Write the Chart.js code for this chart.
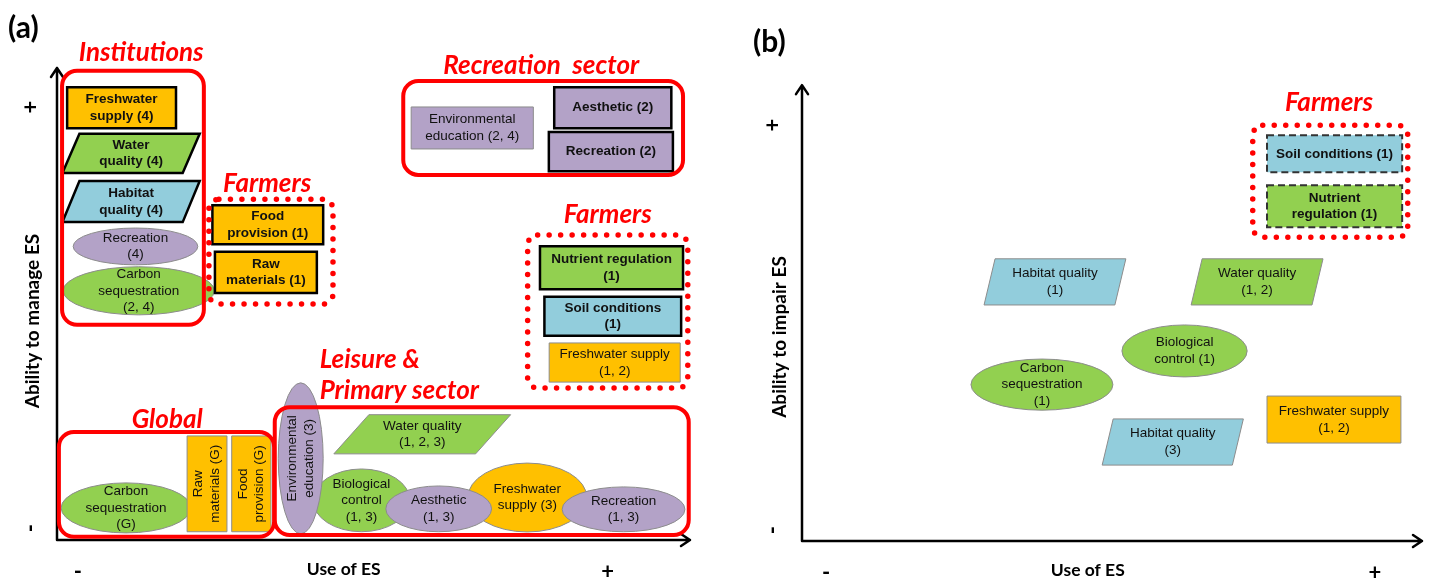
<!DOCTYPE html>
<html>
<head>
<title>Actors and ecosystem services</title>
<script src="https://cdn.jsdelivr.net/npm/chart.js"></script>
<style>
  body { margin: 0; background: #fff; }
  .row { display: flex; width: 1429px; height: 580px; }
  canvas { display: block; }
</style>
</head>
<body>
<div class="row">
  <canvas id="chartA" width="715" height="580"></canvas>
  <canvas id="chartB" width="714" height="580"></canvas>
</div>
<script>
// ---- panel (a): ability to manage ES vs use of ES ----
const aNames = [
  'Freshwater\nsupply (4)', 'Water\nquality (4)', 'Habitat\nquality (4)', 'Recreation\n(4)', 'Carbon\nsequestration\n(2, 4)',
  'Food\nprovision (1)', 'Raw\nmaterials (1)',
  'Environmental\neducation (2, 4)', 'Aesthetic (2)', 'Recreation (2)',
  'Nutrient regulation\n(1)', 'Soil conditions\n(1)', 'Freshwater supply\n(1, 2)',
  'Carbon\nsequestration\n(G)', 'Raw\nmaterials (G)', 'Food\nprovision (G)',
  'Biological\ncontrol\n(1, 3)', 'Freshwater\nsupply (3)', 'Aesthetic\n(1, 3)', 'Recreation\n(1, 3)',
  'Environmental\neducation (3)', 'Water quality\n(1, 2, 3)'
];
const aUse     = [10.2, 11.7, 11.7, 12.4, 12.9, 33.3, 33.0, 65.6, 87.8, 87.5, 87.6, 87.8, 88.1, 10.9, 23.7, 30.7, 48.1, 74.3, 60.3, 89.5, 38.5, 57.7];
const aAbility = [91.6, 81.9, 71.7, 62.2, 52.8, 66.8, 56.7, 87.3, 91.6, 82.3, 57.7, 47.4, 37.6, 6.8, 11.9, 11.9, 8.4, 9.0, 6.6, 6.5, 17.3, 22.4];
const aType    = ['prov', 'reg', 'hab', 'cult', 'reg', 'prov', 'prov', 'cult', 'cult', 'cult', 'reg', 'hab', 'prov',
                  'reg', 'prov', 'prov', 'reg', 'prov', 'cult', 'cult', 'cult', 'reg'];
const aShape   = ['rect', 'para', 'para', 'ellipse', 'ellipse', 'rect', 'rect', 'rect', 'rect', 'rect', 'rect', 'rect', 'rect',
                  'ellipse', 'rect', 'rect', 'ellipse', 'ellipse', 'ellipse', 'ellipse', 'ellipse', 'para'];
const aStrong  = [1, 1, 1, 0, 0, 1, 1, 0, 1, 1, 1, 1, 0, 0, 0, 0, 0, 0, 0, 0, 0, 0];
const aRotated = [0, 0, 0, 0, 0, 0, 0, 0, 0, 0, 0, 0, 0, 0, 1, 1, 0, 0, 0, 0, 1, 0];
// box sizes in axis units, slant of parallelograms in px
const aBoxW  = [17.2, 19.0, 19.0, 19.7, 23.9, 17.5, 16.1, 19.3, 18.5, 19.6, 22.6, 21.6, 20.7, 20.5, 6.3, 6.2, 15.3, 18.8, 16.7, 19.4, 7.1, 22.4];
const aBoxH  = [8.7, 8.3, 8.7, 7.8, 10.2, 8.3, 8.7, 8.9, 8.7, 8.3, 9.1, 8.3, 8.3, 10.6, 20.3, 20.3, 13.3, 14.6, 9.7, 9.5, 32.0, 8.3];
const aSlant = [0, 17, 17, 0, 0, 0, 0, 0, 0, 0, 0, 0, 0, 0, 0, 0, 0, 0, 0, 0, 0, 35];

const aGroups    = ['Institutions', 'Farmers', 'Recreation  sector', 'Farmers', 'Global', 'Leisure &\nPrimary sector'];
const aGroupX    = [12.0, 33.8, 76.8, 87.0, 17.3, 67.1];
const aGroupY    = [72.5, 61.1, 87.3, 48.4, 11.8, 14.6];
const aGroupW    = [22.4, 19.6, 44.2, 25.3, 34.0, 65.4];
const aGroupH    = [53.8, 22.2, 19.9, 32.4, 22.2, 27.1];
const aGroupDots = [0, 1, 0, 1, 0, 0];
const aLabelX    = [13.3, 33.2, 76.5, 87.0, 17.4, 41.5];
const aLabelY    = [103.2, 75.6, 100.6, 68.9, 25.6, 34.9];

// ---- panel (b): ability to impair ES vs use of ES ----
const bNames = [
  'Soil conditions (1)', 'Nutrient\nregulation (1)', 'Habitat quality\n(1)', 'Water quality\n(1, 2)',
  'Biological\ncontrol (1)', 'Carbon\nsequestration\n(1)', 'Freshwater supply\n(1, 2)', 'Habitat quality\n(3)'
];
const bUse     = [85.9, 85.9, 40.8, 73.4, 61.7, 38.7, 85.8, 59.8];
const bAbility = [93.1, 80.5, 62.3, 62.3, 45.7, 37.6, 29.2, 23.8];
const bType    = ['hab', 'reg', 'hab', 'reg', 'reg', 'reg', 'prov', 'hab'];
const bShape   = ['rect', 'rect', 'para', 'para', 'ellipse', 'ellipse', 'rect', 'para'];
const bStrong  = [2, 2, 0, 0, 0, 0, 0, 0];
const bBoxW  = [21.8, 21.8, 21.1, 19.5, 20.2, 22.9, 21.6, 21.0];
const bBoxH  = [8.9, 10.1, 11.1, 11.1, 12.5, 12.3, 11.3, 11.1];
const bSlant = [0, 0, 11, 11, 0, 0, 0, 11];

const bGroups = ['Farmers'];
const bGroupX = [85.2], bGroupY = [86.5], bGroupW = [25.0], bGroupH = [26.9], bGroupDots = [1];
const bLabelX = [85.0], bLabelY = [105.3];

const fills = { prov: '#FFC000', reg: '#92D050', hab: '#92CDDC', cult: '#B3A2C7' };
const boxFont = '"Liberation Sans", Arial, sans-serif';
const headFont = 'Lato, "Open Sans", sans-serif';

function drawText(ctx, text, cx, cy, lh, rotated) {
  const lines = text.split('\n');
  ctx.save();
  ctx.translate(cx, cy);
  if (rotated) ctx.rotate(-Math.PI / 2);
  lines.forEach((ln, k) => ctx.fillText(ln, 0, (k - (lines.length - 1) / 2) * lh));
  ctx.restore();
}

function esPlugin(items, groups, arrowTop) {
  return {
    id: 'esShapes',
    beforeDatasetsDraw(chart) {
      const ctx = chart.ctx, xs = chart.scales.x, ys = chart.scales.y;
      const x0 = xs.getPixelForValue(0), y0 = ys.getPixelForValue(0);
      const xEnd = xs.getPixelForValue(100), yEnd = ys.getPixelForValue(arrowTop);
      ctx.save();
      ctx.strokeStyle = '#000';
      ctx.lineWidth = 2.5;
      ctx.lineCap = 'round';
      ctx.lineJoin = 'round';
      ctx.beginPath();
      ctx.moveTo(x0, y0); ctx.lineTo(x0, yEnd);
      ctx.moveTo(x0 - 6, yEnd + 9); ctx.lineTo(x0, yEnd); ctx.lineTo(x0 + 6, yEnd + 9);
      ctx.moveTo(x0, y0); ctx.lineTo(xEnd, y0);
      ctx.moveTo(xEnd - 9, y0 - 6); ctx.lineTo(xEnd, y0); ctx.lineTo(xEnd - 9, y0 + 6);
      ctx.stroke();
      ctx.restore();
    },
    afterDatasetsDraw(chart) {
      const ctx = chart.ctx, xs = chart.scales.x, ys = chart.scales.y;
      const pts = chart.getDatasetMeta(0).data;
      const sx = v => xs.getPixelForValue(v) - xs.getPixelForValue(0);
      const sy = v => ys.getPixelForValue(0) - ys.getPixelForValue(v);
      ctx.save();
      ctx.textAlign = 'center';
      ctx.textBaseline = 'middle';
      items.forEach((it, i) => {
        const cx = pts[i].x, cy = pts[i].y, w = sx(it.w), h = sy(it.h);
        ctx.beginPath();
        if (it.shape === 'ellipse') {
          ctx.ellipse(cx, cy, w / 2, h / 2, 0, 0, Math.PI * 2);
        } else if (it.shape === 'para') {
          const s = it.slant / 2;
          ctx.moveTo(cx - w / 2 + s, cy - h / 2);
          ctx.lineTo(cx + w / 2 + s, cy - h / 2);
          ctx.lineTo(cx + w / 2 - s, cy + h / 2);
          ctx.lineTo(cx - w / 2 - s, cy + h / 2);
          ctx.closePath();
        } else {
          ctx.rect(cx - w / 2, cy - h / 2, w, h);
        }
        ctx.fillStyle = fills[it.type];
        ctx.fill();
        if (it.strong === 1) {
          ctx.setLineDash([]); ctx.lineWidth = 2.5; ctx.strokeStyle = '#000';
        } else if (it.strong === 2) {
          ctx.setLineDash([7, 4]); ctx.lineWidth = 2; ctx.strokeStyle = '#333';
        } else {
          ctx.setLineDash([]); ctx.lineWidth = 1; ctx.strokeStyle = '#8c8c8c';
        }
        ctx.stroke();
        ctx.fillStyle = '#111';
        ctx.font = (it.strong ? 'bold ' : '') + '13.5px ' + boxFont;
        drawText(ctx, it.name, cx, cy, 16.5, it.rotated);
      });
      ctx.setLineDash([]);
      groups.forEach(g => {
        const gx = xs.getPixelForValue(g.x), gy = ys.getPixelForValue(g.y);
        const gw = sx(g.w), gh = sy(g.h);
        ctx.beginPath();
        ctx.roundRect(gx - gw / 2, gy - gh / 2, gw, gh, g.dots ? 10 : 15);
        ctx.strokeStyle = '#FF0000';
        if (g.dots) {
          ctx.setLineDash([0, 11.5]); ctx.lineCap = 'round'; ctx.lineWidth = 5.5;
        } else {
          ctx.setLineDash([]); ctx.lineCap = 'butt'; ctx.lineWidth = 4;
        }
        ctx.stroke();
        ctx.setLineDash([]);
        ctx.fillStyle = '#FF0000';
        ctx.font = 'italic bold 26px ' + headFont;
        const lines = g.name.split('\n');
        ctx.textAlign = lines.length > 1 ? 'left' : 'center';
        lines.forEach((ln, k) => ctx.fillText(ln, xs.getPixelForValue(g.lx),
          ys.getPixelForValue(g.ly) + (k - (lines.length - 1) / 2) * 31));
        ctx.textAlign = 'center';
      });
      ctx.restore();
    }
  };
}

function makeChart(id, items, groups, cfg) {
  return new Chart(document.getElementById(id), {
    type: 'scatter',
    data: { datasets: [{ data: items.map(it => ({ x: it.x, y: it.y })), pointRadius: 0, pointHitRadius: 0 }] },
    options: {
      responsive: false,
      animation: false,
      events: [],
      layout: { padding: cfg.pad },
      plugins: {
        legend: { display: false },
        tooltip: { enabled: false },
        title: {
          display: true, text: cfg.panel, align: 'start', color: '#000',
          font: { family: headFont, size: 30, weight: 'bold' }, padding: cfg.titlePad
        }
      },
      scales: {
        x: {
          type: 'linear', min: 0, max: 100,
          grid: { display: false }, border: { display: false },
          afterBuildTicks: s => { s.ticks = cfg.xTicks.map(v => ({ value: v })); },
          afterFit: s => { s.height = cfg.xAxisH; },
          ticks: {
            autoSkip: false, maxRotation: 0, padding: 11, color: '#000',
            callback: (v, i) => cfg.xTickText[i],
            font: c => ({ family: headFont, weight: 'bold', size: c.index === 1 ? 17.5 : 22 })
          }
        },
        y: {
          type: 'linear', min: 0, max: cfg.yMax,
          grid: { display: false }, border: { display: false },
          afterBuildTicks: s => { s.ticks = cfg.yTicks.map(v => ({ value: v })); },
          afterFit: s => { s.width = cfg.yAxisW; },
          ticks: {
            autoSkip: false, minRotation: 90, maxRotation: 90, crossAlign: 'center',
            padding: cfg.yTickPad, color: '#000',
            callback: (v, i) => ['-', '+'][i],
            font: { family: headFont, weight: 'bold', size: 22 }
          },
          title: {
            display: true, text: cfg.yTitle, color: '#000',
            font: { family: headFont, weight: 'bold', size: 19 },
            padding: { top: cfg.yTitlePad, bottom: 0 }
          }
        }
      }
    },
    plugins: [esPlugin(items, groups, cfg.arrowTop)]
  });
}

const aItems = aNames.map((n, i) => ({
  name: n, x: aUse[i], y: aAbility[i], type: aType[i], shape: aShape[i], strong: aStrong[i],
  rotated: aRotated[i], w: aBoxW[i], h: aBoxH[i], slant: aSlant[i]
}));
const aGroupItems = aGroups.map((n, i) => ({
  name: n, x: aGroupX[i], y: aGroupY[i], w: aGroupW[i], h: aGroupH[i], dots: aGroupDots[i], lx: aLabelX[i], ly: aLabelY[i]
}));
const bItems = bNames.map((n, i) => ({
  name: n, x: bUse[i], y: bAbility[i], type: bType[i], shape: bShape[i], strong: bStrong[i],
  rotated: 0, w: bBoxW[i], h: bBoxH[i], slant: bSlant[i]
}));
const bGroupItems = bGroups.map((n, i) => ({
  name: n, x: bGroupX[i], y: bGroupY[i], w: bGroupW[i], h: bGroupH[i], dots: bGroupDots[i], lx: bLabelX[i], ly: bLabelY[i]
}));

makeChart('chartA', aItems, aGroupItems, {
  panel: '(a)', yTitle: 'Ability to manage ES', yMax: 92.8,
  pad: { top: 0, left: 8, right: 25, bottom: 0 }, titlePad: { top: 10, bottom: 56 },
  xTicks: [3.3, 45.3, 87.0], xTickText: ['-', 'Use of ES', '+'], yTicks: [2.5, 91.7],
  xAxisH: 40, yAxisW: 49, yTickPad: 12, yTitlePad: 13.6, arrowTop: 100
});
makeChart('chartB', bItems, bGroupItems, {
  panel: '(b)', yTitle: 'Ability to impair ES', yMax: 98.1,
  pad: { top: 14, left: 38, right: 7, bottom: 0 }, titlePad: { top: 10, bottom: 73 },
  xTicks: [3.9, 46.1, 92.4], xTickText: ['-', 'Use of ES', '+'], yTicks: [2.6, 100],
  xAxisH: 39, yAxisW: 49, yTickPad: 15, yTitlePad: 15.6, arrowTop: 109.6
});
</script>
</body>
</html>
